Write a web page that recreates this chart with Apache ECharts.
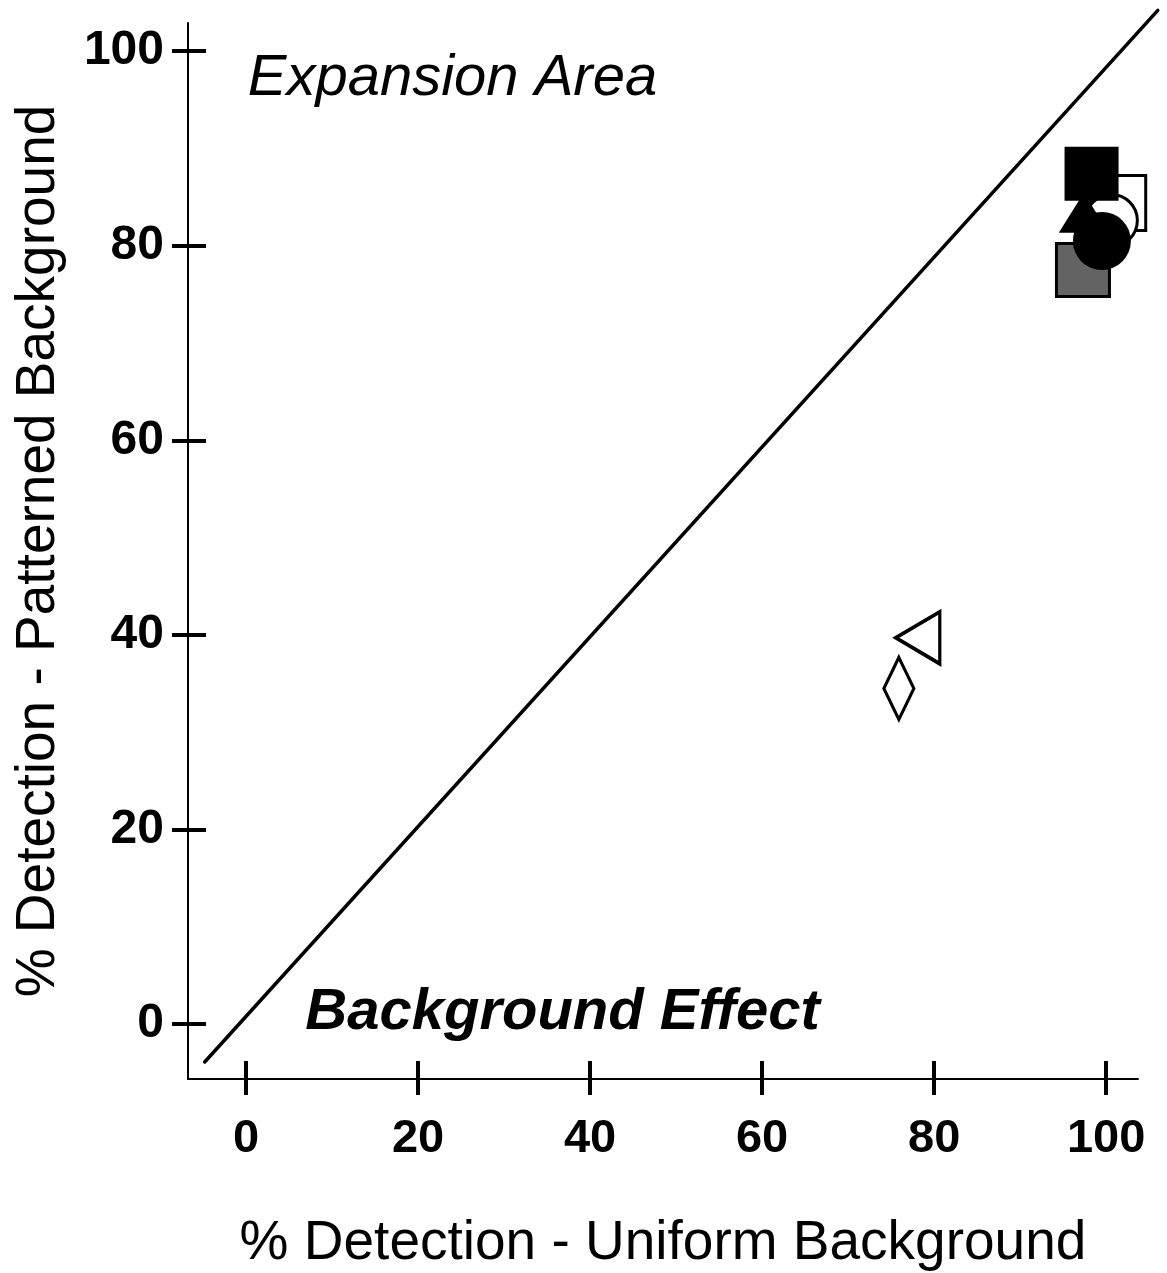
<!DOCTYPE html>
<html><head><meta charset="utf-8">
<script src="https://cdn.jsdelivr.net/npm/echarts@6/dist/echarts.min.js"></script>
<style>html,body{margin:0;padding:0;background:#fff}#c{width:1167px;height:1273px}</style>
</head><body><div id="c"></div>
<script>
var tickValues = [0, 20, 40, 60, 80, 100];
var identityLine = [[-4.8, -3.9], [106, 104.2]];
var openSquare = [[101.4, 84.4]];
var openCircle = [[100.6, 82.6]];
var graySquare = [[97.3, 77.5]];
var blackSquare = [[98.3, 87.4]];
var blackTriangle = [[97.4, 83.4]];
var blackCircle = [[99.5, 80.5]];
var openTriangle = [[78.1, 39.7]];
var openDiamond = [[75.9, 34.5]];
var notes = [
  {value: [0.2, 97.2], name: 'Expansion Area', style: 'italic', weight: 'normal', size: 58},
  {value: [6.9, 1.1], name: 'Background Effect', style: 'italic', weight: 'bold', size: 58}
];

var FONT = '"Liberation Sans", Arial, sans-serif';
var chart = echarts.init(document.getElementById('c'));
function axisBase(extra) {
  return Object.assign({
    type: 'value',
    splitLine: {show: false},
    axisLine: {show: true, onZero: false, lineStyle: {color: '#000', width: 2}},
    axisTick: {show: true, length: 16, customValues: tickValues, lineStyle: {color: '#000', width: 4}}
  }, extra);
}
function innerAxis(extra) {
  return Object.assign({
    type: 'value',
    splitLine: {show: false},
    axisLine: {show: false, onZero: false},
    axisTick: {show: true, inside: true, length: 18, customValues: tickValues, lineStyle: {color: '#000', width: 4}},
    axisLabel: {show: false}
  }, extra);
}
function solid(style) { return Object.assign({opacity: 1}, style); }
chart.setOption({
  animation: false,
  backgroundColor: '#fff',
  grid: {left: 188, top: 23, right: 29, bottom: 194, containLabel: false, outerBoundsMode: 'none'},
  xAxis: [
    axisBase({min: -6.74, max: 103.7, name: '% Detection - Uniform Background', nameLocation: 'middle', nameGap: 137,
      nameTextStyle: {color: '#000', fontFamily: FONT, fontSize: 55},
      axisLabel: {customValues: tickValues, color: '#000', fontFamily: FONT, fontWeight: 'bold', fontSize: 47, margin: 37}}),
    innerAxis({min: -6.74, max: 103.7, position: 'bottom'})
  ],
  yAxis: [
    axisBase({min: -5.65, max: 102.9, name: '% Detection - Patterned Background', nameLocation: 'middle', nameGap: 122,
      nameTextStyle: {color: '#000', fontFamily: FONT, fontSize: 55},
      axisLabel: {customValues: tickValues, color: '#000', fontFamily: FONT, fontWeight: 'bold', fontSize: 48, margin: 24}}),
    innerAxis({min: -5.65, max: 102.9, position: 'left'})
  ],
  series: [
    {type: 'custom', clip: false, z: 1, silent: true,
      data: [identityLine[0].concat(identityLine[1])],
      renderItem: function (params, api) {
        var a = api.coord([api.value(0), api.value(1)]);
        var b = api.coord([api.value(2), api.value(3)]);
        return {type: 'line', shape: {x1: a[0], y1: a[1], x2: b[0], y2: b[1]},
          style: {stroke: '#000', lineWidth: 3.5, lineCap: 'round'}};
      }},
    {type: 'scatter', data: openSquare, symbol: 'rect', symbolSize: 55, itemStyle: solid({color: '#fff', borderColor: '#000', borderWidth: 3}), z: 2},
    {type: 'scatter', data: openCircle, symbol: 'circle', symbolSize: 52, itemStyle: solid({color: '#fff', borderColor: '#000', borderWidth: 3}), z: 3},
    {type: 'scatter', data: graySquare, symbol: 'rect', symbolSize: 53, itemStyle: solid({color: '#636363', borderColor: '#000', borderWidth: 3}), z: 4},
    {type: 'scatter', data: blackSquare, symbol: 'rect', symbolSize: 54, itemStyle: solid({color: '#000'}), z: 5},
    {type: 'scatter', data: blackTriangle, symbol: 'triangle', symbolSize: [50, 40], itemStyle: solid({color: '#000'}), z: 6},
    {type: 'scatter', data: blackCircle, symbol: 'circle', symbolSize: 58, itemStyle: solid({color: '#000'}), z: 7},
    {type: 'scatter', data: openTriangle, symbol: 'triangle', symbolSize: [52, 44], symbolRotate: 90, itemStyle: solid({color: '#fff', borderColor: '#000', borderWidth: 3.5}), z: 8},
    {type: 'scatter', data: openDiamond, symbol: 'diamond', symbolSize: [30, 62], itemStyle: solid({color: '#fff', borderColor: '#000', borderWidth: 3.5}), z: 8},
    {type: 'scatter', symbolSize: 0, silent: true, z: 9, itemStyle: {opacity: 1},
      data: notes.map(function (n) {
        return {value: n.value, name: n.name,
          label: {show: true, position: 'right', distance: 0, formatter: '{b}', color: '#000', opacity: 1, fontFamily: FONT,
            fontSize: n.size, fontStyle: n.style, fontWeight: n.weight}};
      })}
  ]
});
</script></body></html>
